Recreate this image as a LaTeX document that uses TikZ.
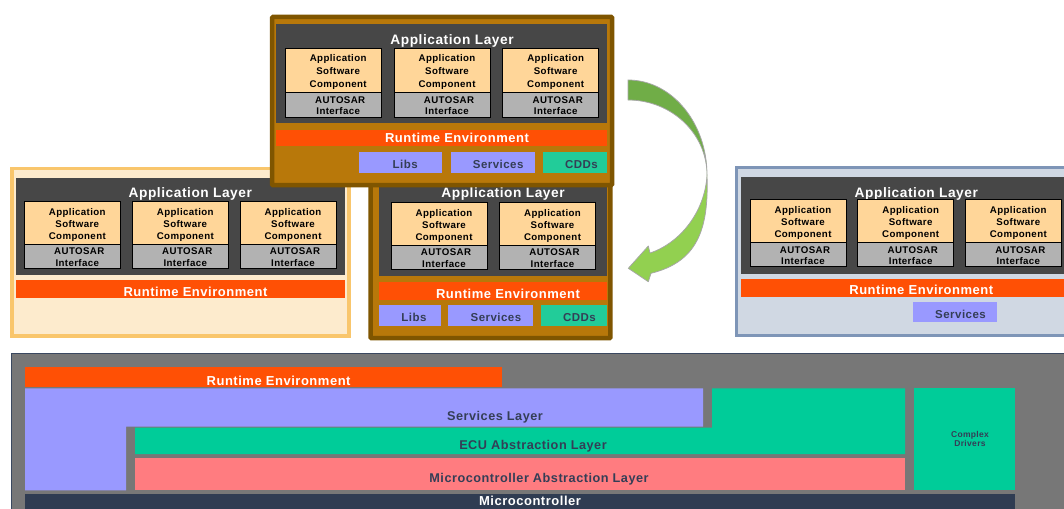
\documentclass[tikz,border=0pt]{standalone}
\usepackage{fontspec}
\setmainfont{Liberation Sans}[LetterSpace=4]
\definecolor{brownfill}{HTML}{B8780A}
\definecolor{brownline}{HTML}{7F5500}
\definecolor{peachfill}{HTML}{FDEBCD}
\definecolor{peachline}{HTML}{F9C66C}
\definecolor{bluefill}{HTML}{D0D8E3}
\definecolor{blueline}{HTML}{7E95B7}
\definecolor{appgray}{HTML}{474747}
\definecolor{ascfill}{HTML}{FFD699}
\definecolor{iffill}{HTML}{B2B2B2}
\definecolor{rte}{HTML}{FF5005}
\definecolor{lav}{HTML}{9999FF}
\definecolor{grn}{HTML}{00CC99}
\definecolor{cdd}{HTML}{22CC99}
\definecolor{mcalpink}{HTML}{FF7C80}
\definecolor{mcu}{HTML}{2F3C52}
\definecolor{panel}{HTML}{777777}
\definecolor{panelline}{HTML}{3A4860}
\definecolor{darktext}{HTML}{343E56}
\definecolor{arrowdark}{HTML}{70AD47}
\definecolor{arrowlight}{HTML}{92D050}
\definecolor{arrowline}{HTML}{A6A6A6}
\tikzset{
  box/.style={rectangle, inner sep=0pt, outer sep=0pt},
  ascbox/.style={box, fill=ascfill, draw=black, line width=0.8pt},
  ifbox/.style={box, fill=iffill, draw=black, line width=0.8pt},
  applayer/.style={box, fill=appgray},
  rtebar/.style={box, fill=rte},
  lavbox/.style={box, fill=lav},
  cddbox/.style={box, fill=cdd},
  brownframe/.style={box, fill=brownfill, draw=brownline, line width=4.5pt, rounded corners=1pt},
  peachframe/.style={box, fill=peachfill, draw=peachline, line width=3.5pt},
  blueframe/.style={box, fill=bluefill, draw=blueline, line width=3pt},
  txt/.style={inner sep=0pt, outer sep=0pt, anchor=base},
  titletxt/.style={txt, text=white, font=\fontsize{13.7}{14}\selectfont\bfseries},
  rtetxt/.style={txt, text=white, font=\fontsize{13}{14}\selectfont\bfseries},
  lbltxt/.style={txt, text=darktext, font=\fontsize{11.5}{12}\selectfont\bfseries},
  asctxt/.style={txt, text=black, font=\fontsize{9.7}{10}\selectfont\bfseries},
  layertxt/.style={txt, text=darktext, font=\fontsize{12.7}{13}\selectfont\bfseries},
  smalltxt/.style={txt, text=darktext, font=\fontsize{8.5}{9}\selectfont\bfseries},
}
% #1 style, #2 name, #3 x1, #4 y1, #5 x2, #6 y2
\newcommand\rect[6]{\node[#1, minimum width={(#5-#3)*1pt}, minimum height={(#6-#4)*1pt}, anchor=north west] (#2) at (#3,#4) {};}
% #1 name, #2 x, #3 top, #4 boundary, #5 bottom
\newcommand\ascunit[5]{%
  \rect{ascbox}{#1}{#2}{#3}{{#2+96}}{#4}
  \rect{ifbox}{#1-if}{#2}{#4}{{#2+96}}{#5}
  \node[asctxt] (#1-t1) at ({#2+53},{#3+14}) {Application};
  \node[asctxt] (#1-t2) at ({#2+53},{(#3+10.5+#4-8.5)/2+3.5}) {Software};
  \node[asctxt] (#1-t3) at ({#2+53},{#4-5}) {Component};
  \node[asctxt] (#1-t4) at ({#2+55},{#4+10.5}) {AUTOSAR};
  \node[asctxt] (#1-t5) at ({#2+53},{#4+22}) {Interface};
}
\begin{document}
\begin{tikzpicture}[x=1pt,y=-1pt]
\useasboundingbox (0,0) rectangle (1064,508);
\fill[white] (0,0) rectangle (1064,508);

% ---------------- bottom layered architecture ----------------
\rect{box, fill=panel, draw=panelline, line width=1pt}{panel}{11.4}{353.6}{1085}{525}
\rect{rtebar}{brte}{25}{367.4}{501.7}{387}
\node[rtetxt] (brte-t) at (278.6,385.1) {Runtime Environment};
\fill[lav] (25,388.4) -- (703,388.4) -- (703,426.6) -- (126,426.6) -- (126,490.3) -- (25,490.3) -- cycle;
\node[layertxt] (sl-t) at (495,420.1) {Services Layer};
\fill[grn] (135,427.6) -- (712,427.6) -- (712,388.4) -- (905,388.4) -- (905,454) -- (135,454) -- cycle;
\node[layertxt] (ecu-t) at (533,449.9) {ECU Abstraction Layer};
\rect{box, fill=mcalpink}{mcal}{135}{457.6}{905}{490.3}
\node[layertxt] (mcal-t) at (539,482) {Microcontroller Abstraction Layer};
\rect{box, fill=grn}{cdrv}{914}{388.4}{1015}{490.3}
\node[smalltxt] (cdrv-t1) at (970,437) {Complex};
\node[smalltxt] (cdrv-t2) at (970,446.6) {Drivers};
\rect{box, fill=mcu}{mcu}{25}{493.8}{1015}{525}
\node[rtetxt] (mcu-t) at (530,505.5) {Microcontroller};

% ---------------- left ECU ----------------
\rect{peachframe}{lframe}{11.8}{168.5}{349.2}{336.2}
\rect{applayer}{lapp}{16}{178.3}{345}{275}
\node[titletxt] (lapp-t) at (190.3,197.7) {Application Layer};
\ascunit{la1}{24.3}{201.7}{244}{268.3}
\ascunit{la2}{132.3}{201.7}{244}{268.3}
\ascunit{la3}{240}{201.7}{244}{268.3}
\rect{rtebar}{lrte}{16}{280}{345}{297.7}
\node[rtetxt] (lrte-t) at (195.5,296.9) {Runtime Environment};

% ---------------- right ECU ----------------
\rect{blueframe}{rframe}{736.2}{167.5}{1085}{335.2}
\rect{applayer}{rapp}{741}{176.7}{1085}{274}
\node[titletxt] (rapp-t) at (916.3,197) {Application Layer};
\ascunit{ra1}{750}{199}{242.7}{266.7}
\ascunit{ra2}{857.7}{199}{242.7}{266.7}
\ascunit{ra3}{965.3}{199}{242.7}{266.7}
\rect{rtebar}{rrte}{741}{279}{1085}{296.7}
\node[rtetxt] (rrte-t) at (921.3,294.6) {Runtime Environment};
\rect{lavbox}{rsrv}{913}{302}{997}{322}
\node[lbltxt] (rsrv-t) at (960.5,318.4) {Services};

% ---------------- middle ECU ----------------
\rect{brownframe}{mframe}{370.6}{182}{610.4}{338.2}
\rect{applayer}{mapp}{379.2}{185}{606.5}{275.7}
\node[titletxt] (mapp-t) at (503,197.6) {Application Layer};
\ascunit{ma1}{391}{202}{245}{269.6}
\ascunit{ma2}{499.5}{202}{245}{269.6}
\rect{rtebar}{mrte}{379.2}{282.4}{606.5}{300}
\node[rtetxt] (mrte-t) at (508,298.5) {Runtime Environment};
\rect{lavbox}{mlibs}{379.2}{305}{441}{326}
\node[lbltxt] (mlibs-t) at (414,321.7) {Libs};
\rect{lavbox}{msrv}{448}{305}{533}{326}
\node[lbltxt] (msrv-t) at (495.9,321.7) {Services};
\rect{cddbox}{mcdd}{541.4}{305}{606.5}{326}
\node[lbltxt] (mcdd-t) at (579.5,321.7) {CDDs};

% ---------------- top ECU ----------------
\rect{brownframe}{tframe}{272}{17}{612.2}{185.1}
\rect{applayer}{tapp}{276}{24.5}{607.4}{122.8}
\node[titletxt] (tapp-t) at (452,45) {Application Layer};
\ascunit{ta1}{285.2}{48}{92.5}{117}
\ascunit{ta2}{394}{48}{92.5}{117}
\ascunit{ta3}{502.7}{48}{92.5}{117}
\rect{rtebar}{trte}{276}{129.5}{607.4}{146.4}
\node[rtetxt] (trte-t) at (457,142.6) {Runtime Environment};
\rect{lavbox}{tlibs}{359}{152.4}{442.4}{172.6}
\node[lbltxt] (tlibs-t) at (405.2,168.3) {Libs};
\rect{lavbox}{tsrv}{450.9}{152.4}{534.7}{172.6}
\node[lbltxt] (tsrv-t) at (498.2,168.3) {Services};
\rect{cddbox}{tcdd}{542.8}{152.4}{607.4}{172.6}
\node[lbltxt] (tcdd-t) at (581.5,168.3) {CDDs};

% ---------------- curved arrow ----------------
\filldraw[fill=arrowdark, draw=arrowline, line width=0.75pt, line join=round]
  (628,80) .. controls (671.6,80) and (707,122.5) .. (707,175)
  .. controls (707,133.6) and (671.6,100) .. (628,100) -- cycle;
\filldraw[fill=arrowlight, draw=arrowline, line width=0.75pt, line join=round]
  (707,175) .. controls (709,230) and (697,262) .. (651,273.3)
  -- (648.3,281.7) -- (628.3,268.3) -- (648.3,246) -- (650,253)
  .. controls (680,243) and (705,212) .. (707,175) -- cycle;
\end{tikzpicture}
\end{document}
